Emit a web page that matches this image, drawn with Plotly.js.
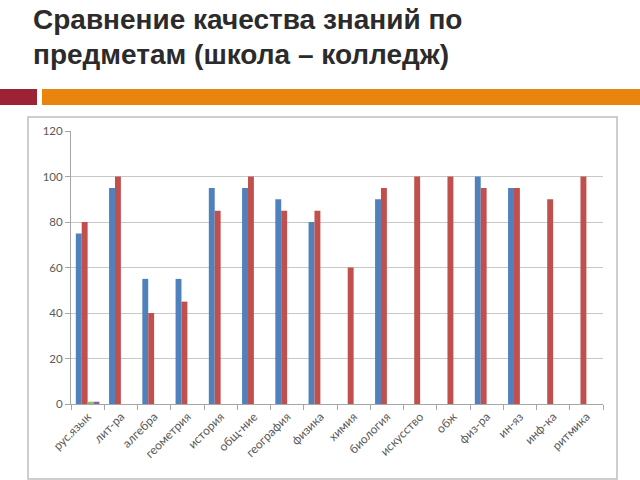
<!DOCTYPE html>
<html>
<head>
<meta charset="utf-8">
<script src="https://cdn.plot.ly/plotly-3.0.1.min.js"></script>
<style>
html,body{margin:0;padding:0;background:#fff;}
#chart{width:640px;height:480px;}
</style>
</head>
<body>
<div id="chart"></div>
<script>
var categories = ["рус.язык","лит-ра","алгебра","геометрия","история","общ-ние","география","физика","химия","биология","искусство","обж","физ-ра","ин-яз","инф-ка","ритмика"];
var school = [75,95,55,55,95,95,90,80,null,90,null,null,100,95,null,null];
var college = [80,100,40,45,85,100,85,85,60,95,100,100,95,95,90,100];
var series3 = [1,null,null,null,null,null,null,null,null,null,null,null,null,null,null,null];
var series4 = [1,null,null,null,null,null,null,null,null,null,null,null,null,null,null,null];
var yTicks = [0,20,40,60,80,100,120];
var titleLines = ["Сравнение качества знаний по","предметам (школа – колледж)"];

var W=640,H=480,L=71,R=603,T=131,B=404;
function px(x){return (x-L)/(R-L);}
function py(y){return (B-y)/(B-T);}

function bar(y,color){return {type:'bar',x:categories,y:y,marker:{color:color,line:{width:0}},hoverinfo:'skip'};}
var data=[bar(school,'#4F81BD'),bar(college,'#C0504D'),bar(series3,'#9BBB59'),bar(series4,'#8064A2')];

var fam='Lato, "Open Sans", Arial, sans-serif';
var layout={
  width:W,height:H,
  margin:{l:L,r:W-R,t:T,b:H-B,pad:0},
  paper_bgcolor:'#fff',plot_bgcolor:'#fff',
  showlegend:false,
  barmode:'group',bargap:0.29,bargroupgap:0,
  xaxis:{type:'category',tickangle:-45,tickfont:{family:fam,size:12,color:'#595959'},showgrid:false,
    showline:true,linecolor:'#A6A6A6',linewidth:1,ticks:'outside',ticklen:5,tickcolor:'#A6A6A6',
    tickson:'boundaries',fixedrange:true},
  yaxis:{range:[0,120],tickvals:yTicks,tickfont:{family:fam,size:11.5,color:'#595959'},showgrid:true,gridcolor:'#C8C8C8',gridwidth:1,
    showline:true,linecolor:'#A6A6A6',linewidth:1,ticks:'outside',ticklen:5,tickcolor:'#A6A6A6',
    zeroline:false,fixedrange:true},
  shapes:[
    {type:'rect',xref:'paper',yref:'paper',x0:px(28),x1:px(617),y0:py(479),y1:py(117),line:{color:'#BFBFBF',width:1.5},fillcolor:'rgba(0,0,0,0)',layer:'below'},
    {type:'rect',xref:'paper',yref:'paper',x0:px(0),x1:px(37),y0:py(105),y1:py(89),line:{width:0},fillcolor:'#9E2236'},
    {type:'rect',xref:'paper',yref:'paper',x0:px(42),x1:px(640),y0:py(105),y1:py(89),line:{width:0},fillcolor:'#E9840F'}
  ],
  annotations:titleLines.map(function(t,i){return {
    text:'<b>'+t+'</b>',xref:'paper',yref:'paper',x:px(31),y:py(2+i*35),xanchor:'left',yanchor:'top',
    showarrow:false,align:'left',font:{family:'"Liberation Sans", Arial, sans-serif',size:28,color:'#2B2B2B'}};})
};
Plotly.newPlot('chart',data,layout,{staticPlot:true,displayModeBar:false});
</script>
</body>
</html>
